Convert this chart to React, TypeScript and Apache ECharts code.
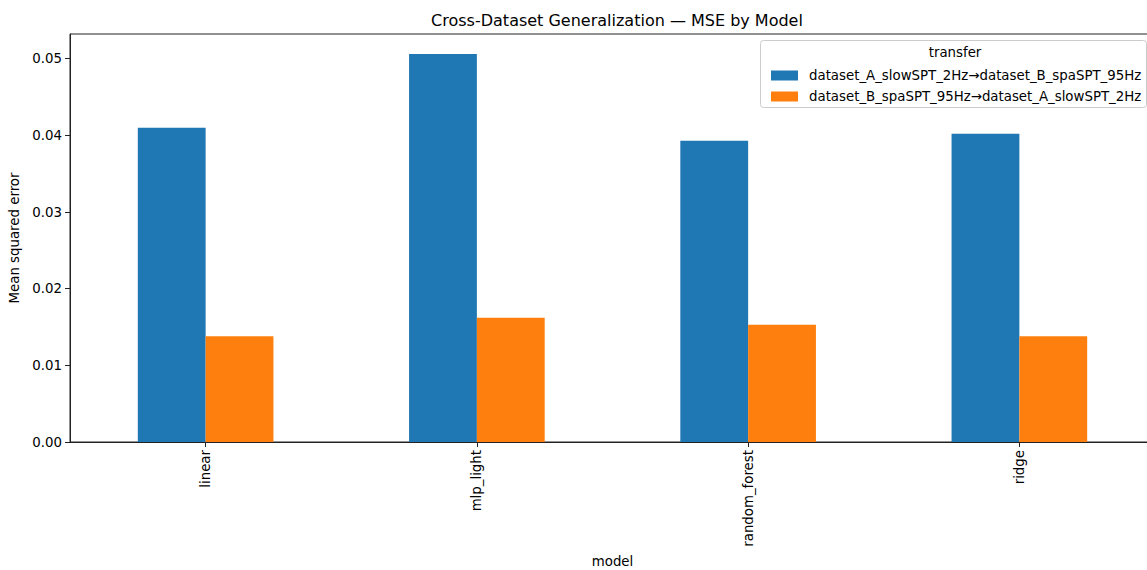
import React, { useEffect, useRef } from "react";
import * as echarts from "echarts";

const models = ["linear", "mlp_light", "random_forest", "ridge"];
const seriesNames = [
  "dataset_A_slowSPT_2Hz→dataset_B_spaSPT_95Hz",
  "dataset_B_spaSPT_95Hz→dataset_A_slowSPT_2Hz",
];
const mseAtoB = [0.0410, 0.0506, 0.0393, 0.0402];
const mseBtoA = [0.0138, 0.0162, 0.0153, 0.0138];
const yTicks = [0, 0.01, 0.02, 0.03, 0.04, 0.05];
const colors = ["#1f77b4", "#ff7f0e"];

const FONT = "DejaVu Sans";
const FS = 13.33;

export default function App() {
  const ref = useRef<HTMLDivElement>(null);
  useEffect(() => {
    if (!ref.current) return;
    const chart = echarts.init(ref.current, undefined, { renderer: "svg" });
    chart.setOption({
      animation: false,
      backgroundColor: "#ffffff",
      textStyle: { fontFamily: FONT, color: "#000" },
      title: {
        text: "Cross-Dataset Generalization — MSE by Model",
        left: 612,
        textAlign: "center",
        top: 7,
        textStyle: { fontFamily: FONT, fontSize: 16, fontWeight: "normal", color: "#000" },
      },
      grid: {
        left: 70,
        top: 34,
        bottom: 128,
        width: 1085,
        outerBoundsMode: "none",
        containLabel: false,
        show: true,
        borderColor: "#222",
        borderWidth: 1,
        backgroundColor: "transparent",
      },
      legend: {
        orient: "vertical",
        left: 766,
        top: 63,
        itemWidth: 27,
        itemHeight: 10,
        itemGap: 6,
        icon: "rect",
        textStyle: {
          fontFamily: FONT,
          fontSize: FS,
          lineHeight: 15,
          color: "#000",
          padding: [0, 0, 0, 6],
        },
        data: seriesNames,
      },
      graphic: [
        {
          type: "rect",
          shape: { x: 760.5, y: 40.5, width: 386, height: 67, r: 3 },
          style: { fill: "rgba(255,255,255,0.8)", stroke: "#cccccc", lineWidth: 1 },
          z: 0,
        },
        {
          type: "text",
          x: 955,
          y: 52,
          style: {
            text: "transfer",
            font: `${FS}px "${FONT}"`,
            fill: "#000",
            align: "center",
            verticalAlign: "middle",
          },
          z: 1,
        },
      ],
      xAxis: {
        type: "category",
        data: models,
        name: "model",
        nameLocation: "middle",
        nameGap: 112,
        nameTextStyle: { fontFamily: FONT, fontSize: FS, color: "#000" },
        axisLine: { show: true, lineStyle: { color: "#222", width: 1 } },
        axisTick: { show: true, alignWithLabel: true, length: 5, lineStyle: { color: "#222" } },
        axisLabel: { rotate: 90, margin: 8, fontFamily: FONT, fontSize: FS, color: "#000" },
        splitLine: { show: false },
      },
      yAxis: {
        type: "value",
        min: 0,
        max: 0.05322,
        interval: 0.01,
        name: "Mean squared error",
        nameLocation: "middle",
        nameGap: 47,
        nameTextStyle: { fontFamily: FONT, fontSize: FS, color: "#000" },
        axisLine: { show: true, lineStyle: { color: "#222", width: 1 } },
        axisTick: { show: true, length: 5, lineStyle: { color: "#222" }, customValues: yTicks },
        axisLabel: {
          margin: 8,
          fontFamily: FONT,
          fontSize: FS,
          color: "#000",
          customValues: yTicks,
          formatter: (v: number) => v.toFixed(2),
        },
        splitLine: { show: false },
      },
      series: [
        {
          name: seriesNames[0],
          type: "bar",
          data: mseAtoB,
          barWidth: "25%",
          barGap: "0%",
          itemStyle: { color: colors[0] },
        },
        {
          name: seriesNames[1],
          type: "bar",
          data: mseBtoA,
          barWidth: "25%",
          barGap: "0%",
          itemStyle: { color: colors[1] },
        },
      ],
    });
    return () => chart.dispose();
  }, []);
  return (
    <div
      ref={ref}
      style={{ position: "fixed", left: 0, top: 0, width: 1147, height: 570, background: "#fff" }}
    />
  );
}
